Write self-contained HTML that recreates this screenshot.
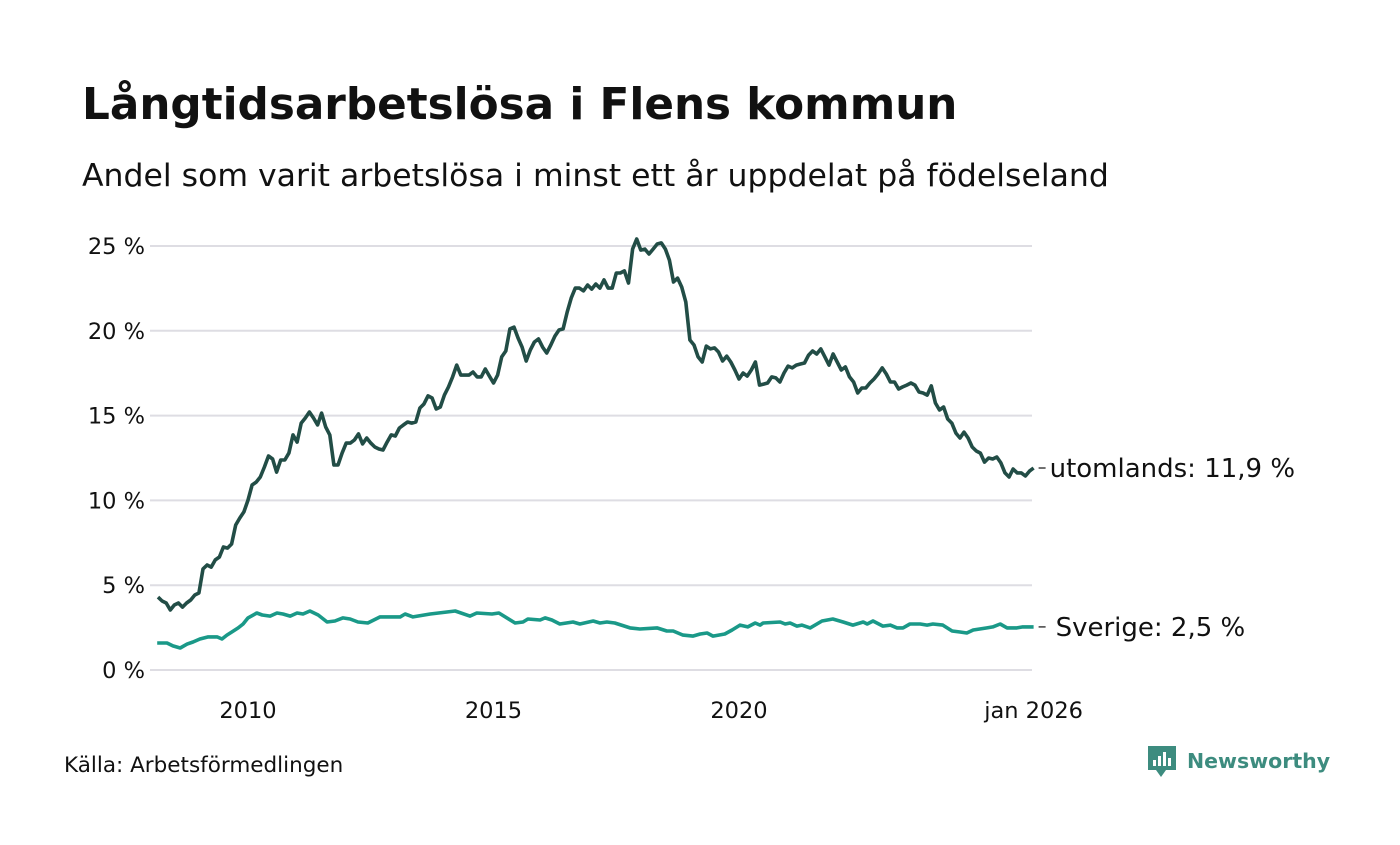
<!DOCTYPE html>
<html><head><meta charset="utf-8">
<style>
body{margin:0;background:#fff;width:1400px;height:840px;overflow:hidden;font-family:"Liberation Sans","DejaVu Sans",sans-serif}
svg text{font-family:"DejaVu Sans","Liberation Sans",sans-serif}
</style></head>
<body>
<svg id="chart" width="1400" height="840" xmlns="http://www.w3.org/2000/svg">
<text x="82" y="119" font-size="43.7" font-weight="bold" fill="#111">Långtidsarbetslösa i Flens kommun</text>
<text x="82" y="186" font-size="31.5" fill="#111">Andel som varit arbetslösa i minst ett år uppdelat på födelseland</text>
<g id="grid"></g>
<g id="lines"></g>
<text x="64" y="772" font-size="21.5" fill="#111">Källa: Arbetsförmedlingen</text>
<g>
<path d="M1148 746h28v24h-10l-5 7-5-7h-8z" fill="#3d8c7f"/>
<rect x="1153" y="760" width="3" height="6" fill="#fff"/><rect x="1158" y="756" width="3" height="10" fill="#fff"/><rect x="1163" y="752" width="3" height="14" fill="#fff"/><rect x="1168" y="758" width="3" height="8" fill="#fff"/>
<text x="1187" y="768" font-size="20.5" font-weight="bold" fill="#3d8c7f">Newsworthy</text>
</g>
</svg>
<script>
const yTicks=[0,5,10,15,20,25];
const yTickLabels=["0 %","5 %","10 %","15 %","20 %","25 %"];
const xTicks=[2010,2015,2020,2026];
const xTickLabels=["2010","2015","2020","jan 2026"];
const utomStart=2008+2/12;
const utomlands=[4.30,4.07,3.95,3.54,3.83,3.95,3.71,3.95,4.13,4.42,4.54,5.96,6.19,6.07,6.49,6.66,7.25,7.19,7.43,8.55,8.96,9.32,10.02,10.91,11.08,11.38,11.97,12.62,12.44,11.67,12.38,12.38,12.79,13.86,13.44,14.56,14.86,15.21,14.86,14.45,15.15,14.33,13.86,12.09,12.09,12.79,13.38,13.38,13.56,13.92,13.33,13.68,13.38,13.15,13.03,12.97,13.44,13.86,13.80,14.27,14.45,14.62,14.56,14.62,15.45,15.68,16.16,16.04,15.39,15.51,16.21,16.69,
17.28,17.98,17.39,17.39,17.39,17.57,17.28,17.28,17.75,17.33,16.92,17.39,18.46,18.81,20.11,20.22,19.58,19.04,18.22,18.87,19.34,19.52,19.04,18.69,19.16,19.69,20.05,20.11,21.11,21.93,22.52,22.52,22.35,22.70,22.46,22.76,22.52,23.00,22.52,22.52,23.41,23.41,23.53,22.82,24.82,25.41,24.76,24.82,24.53,24.82,25.12,25.18,24.82,24.17,22.88,23.11,22.58,21.70,19.46,19.16,18.46,18.16,19.10,18.93,18.99,18.75,18.22,18.51,18.16,17.69,17.16,
17.51,17.33,17.69,18.16,16.80,16.86,16.92,17.28,17.22,16.98,17.51,17.92,17.81,17.98,18.04,18.10,18.57,18.81,18.63,18.93,18.46,17.98,18.63,18.16,17.69,17.87,17.28,16.98,16.33,16.63,16.63,16.92,17.16,17.45,17.81,17.45,16.98,16.98,16.57,16.69,16.80,16.92,16.80,16.39,16.33,16.21,16.75,15.74,15.33,15.51,14.80,14.56,13.97,13.68,14.03,13.68,13.15,12.91,12.79,12.26,12.50,12.44,12.56,12.21,11.62,11.38,11.85,11.62,11.62,11.44,11.73,11.91];
const sverigeDates=[2008.15,2008.35,2008.47,2008.62,2008.76,2008.88,2009.02,2009.19,2009.37,2009.47,2009.57,2009.67,2009.80,2009.90,2010.00,2010.18,2010.29,2010.45,2010.59,2010.71,2010.86,2011.00,2011.12,2011.26,2011.43,2011.61,2011.77,2011.93,2012.08,2012.24,2012.44,2012.69,2013.10,2013.20,2013.36,2013.71,2014.05,2014.22,2014.52,2014.66,2014.97,2015.11,2015.44,2015.60,2015.70,2015.95,2016.05,2016.19,2016.35,2016.62,2016.76,2017.03,2017.17,2017.31,2017.47,2017.78,2017.98,2018.33,2018.53,2018.66,2018.86,2019.06,2019.21,2019.35,2019.47,2019.71,2019.86,2020.02,2020.18,2020.33,2020.43,2020.49,2020.84,2020.94,2021.04,2021.18,2021.28,2021.45,2021.69,2021.91,2022.12,2022.32,2022.53,2022.61,2022.73,2022.93,2023.08,2023.22,2023.34,2023.48,2023.69,2023.83,2023.95,2024.15,2024.34,2024.50,2024.64,2024.77,2025.05,2025.17,2025.32,2025.46,2025.66,2025.78,2026.00];
const sverige=[1.59,1.59,1.42,1.30,1.53,1.65,1.83,1.95,1.95,1.83,2.06,2.24,2.48,2.71,3.07,3.36,3.24,3.18,3.36,3.30,3.18,3.36,3.30,3.48,3.24,2.83,2.89,3.07,3.01,2.83,2.77,3.13,3.13,3.30,3.13,3.30,3.42,3.48,3.18,3.36,3.30,3.36,2.77,2.83,3.01,2.95,3.07,2.95,2.71,2.83,2.71,2.89,2.77,2.83,2.77,2.48,2.42,2.48,2.30,2.30,2.06,2.00,2.12,2.18,2.00,2.12,2.36,2.65,2.54,2.77,2.65,2.77,2.83,2.71,2.77,2.59,2.65,2.48,2.89,3.01,2.83,2.65,2.83,2.71,2.89,2.59,2.65,2.48,2.48,2.71,2.71,2.65,2.71,2.65,2.30,2.24,2.18,2.36,2.48,2.54,2.71,2.48,2.48,2.54,2.54];

const NS='http://www.w3.org/2000/svg';
const xs=t=>248+(t-2010)*49.1;
const ys=v=>670-v*16.96;
const grid=document.getElementById('grid');
const lines=document.getElementById('lines');
function mk(tag,attrs,parent){const e=document.createElementNS(NS,tag);for(const k in attrs)e.setAttribute(k,attrs[k]);parent.appendChild(e);return e;}
yTicks.forEach((v,i)=>{
  const l=mk('line',{x1:150,x2:1032,y1:ys(v),y2:ys(v),stroke:'#dedde3','stroke-width':2},grid);
  
  
  const t=mk('text',{x:145,y:ys(v)+8,'text-anchor':'end','font-size':22.5,fill:'#111'},grid);
  t.textContent=yTickLabels[i];
  
  
});
xTicks.forEach((v,i)=>{
  const t=mk('text',{x:xs(v),y:718,'text-anchor':'middle','font-size':22.5,fill:'#111'},grid);
  t.textContent=xTickLabels[i];
  
  
});
const uPts=utomlands.map((v,i)=>[xs(utomStart+i/12),ys(v)]);
const sPts=sverige.map((v,i)=>[xs(sverigeDates[i]),ys(v)]);
const toD=p=>p.map((q,i)=>(i?'L':'M')+q[0].toFixed(1)+' '+q[1].toFixed(1)).join('');
const su=mk('path',{d:toD(sPts),fill:'none',stroke:'#1a9988','stroke-width':3.6,'stroke-linejoin':'round'},lines);


const pu=mk('path',{d:toD(uPts),fill:'none',stroke:'#224d46','stroke-width':3.6,'stroke-linejoin':'round'},lines);


function endLabel(p,txt,name,dx){
  const l=mk('line',{x1:p[0]+5,x2:p[0]+12,y1:p[1],y2:p[1],stroke:'#111','stroke-width':1.2},lines);
  
  
  const t=mk('text',{x:p[0]+dx,y:p[1]+9,'font-size':26,fill:'#111','xml:space':'preserve'},lines);
  t.textContent=txt;
  
  
}
endLabel(uPts[uPts.length-1],'utomlands: 11,9 %','label-utomlands',16);
endLabel(sPts[sPts.length-1],'Sverige:  2,5 %','label-sverige',22);
</script>
</body></html>
